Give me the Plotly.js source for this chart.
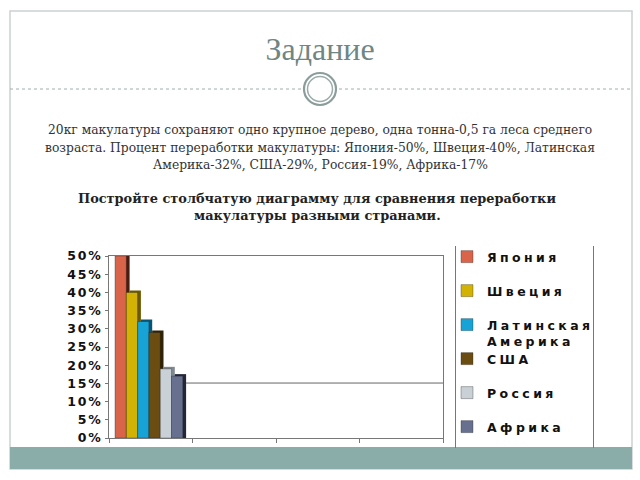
<!DOCTYPE html>
<html><head><meta charset="utf-8">
<script src="https://cdn.plot.ly/plotly-3.0.1.min.js"></script>
<style>
html,body{margin:0;padding:0;background:#fff;}
#chart{width:640px;height:480px;}
.legendtext,.legend2text,.legend3text,.legend4text,.legend5text,.legend6text{letter-spacing:3.4px;}
.ytick text{letter-spacing:1.8px;}
</style></head><body><div id="chart"></div>
<script>
// ---- data ----
const countries = ['Япония', 'Швеция', 'Латинская Америка', 'США', 'Россия', 'Африка'];
const recycling = [0.50, 0.40, 0.32, 0.29, 0.19, 0.17];
const categories = ['1', '2', '3', '4'];
const yTickValues = [0, 0.05, 0.10, 0.15, 0.20, 0.25, 0.30, 0.35, 0.40, 0.45, 0.50];
const yTickLabels = ['0%', '5%', '10%', '15%', '20%', '25%', '30%', '35%', '40%', '45%', '50%'];
const titleText = 'Задание';
const introLines = [
  '20кг макулатуры сохраняют одно крупное дерево, одна тонна-0,5 га леса среднего',
  'возраста. Процент переработки макулатуры: Япония-50%, Швеция-40%, Латинская',
  'Америка-32%, США-29%, Россия-19%, Африка-17%'
];
const taskLines = [
  'Постройте столбчатую диаграмму для сравнения переработки',
  'макулатуры разными странами.'
];
const strayLineLevel = 0.151;

// ---- styles ----
const barColors  = ['#d9644a', '#d2b204', '#18a3d7', '#6b4d12', '#c9d0d6', '#67708f'];
const sideColors = ['#4a1c10', '#6c5a00', '#0a5473', '#2f2207', '#7f878f', '#23273a'];

// ---- geometry (pixels) ----
const W = 640, H = 480, L = 109, R = 443, T = 256, B = 438;
const px = x => (x - L) / (R - L);
const py = y => (B - y) / (B - T);
const catPx = (R - L) / categories.length;
const barPx = 11.3, firstLeftPx = 115, depthPx = 3.3, risePx = 2;
const bw = barPx / catPx;
const off0 = (firstLeftPx - (L + catPx / 2)) / catPx;
const depth = depthPx / catPx;
const rise = risePx / (B - T) * 0.5;

const traces = [];
// depth faces (behind)
recycling.forEach((v, i) => {
  traces.push({
    type: 'bar', x: [categories[0]], y: [v + rise],
    offset: off0 + i * bw + depth, width: bw,
    marker: {color: sideColors[i], line: {width: 0}},
    showlegend: false, hoverinfo: 'skip'
  });
});
// front faces
recycling.forEach((v, i) => {
  traces.push({
    type: 'bar', x: [categories[0]], y: [v],
    offset: off0 + i * bw, width: bw,
    name: countries[i].replace(' ', '<br>'),
    legend: i === 0 ? 'legend' : 'legend' + (i + 1),
    showlegend: true,
    marker: {color: barColors[i], line: {width: 0.6, color: 'rgba(30,30,30,0.55)'}}
  });
});

const legendFont = {family: 'DejaVu Sans', size: 12.5, color: '#111', weight: 'bold'};
const layout = {
  width: W, height: H,
  margin: {l: L, r: W - R, t: T, b: H - B, pad: 0},
  paper_bgcolor: '#fff', plot_bgcolor: '#fff',
  barmode: 'overlay',
  title: {
    text: titleText, xref: 'container', yref: 'container', x: 0.5, xanchor: 'center',
    y: 1 - 49 / H, yanchor: 'middle',
    font: {family: 'Liberation Serif', size: 32, color: '#6f8684'}
  },
  xaxis: {
    type: 'category', categoryorder: 'array', categoryarray: categories,
    range: [-0.5, categories.length - 0.5], tickson: 'boundaries',
    ticks: 'outside', ticklen: 4, tickcolor: '#777', showticklabels: false,
    showline: true, linecolor: '#777', linewidth: 1, mirror: true,
    showgrid: false, zeroline: false, fixedrange: true
  },
  yaxis: {
    range: [0, 0.5], tickvals: yTickValues, ticktext: yTickLabels,
    ticks: 'outside', ticklen: 3, tickcolor: '#777',
    showline: true, linecolor: '#777', linewidth: 1, mirror: true,
    showgrid: false, zeroline: false, fixedrange: true,
    tickfont: {family: 'DejaVu Sans', size: 12.5, color: '#111', weight: 'bold'}
  },
  showlegend: true,
  annotations: [],
  shapes: [
    {type: 'rect', xref: 'paper', yref: 'paper', x0: px(10), x1: px(632), y0: py(11), y1: py(469),
     line: {color: '#cbd1d1', width: 1.5}, fillcolor: 'rgba(0,0,0,0)', layer: 'below'},
    {type: 'rect', xref: 'paper', yref: 'paper', x0: px(10), x1: px(632), y0: py(447), y1: py(469),
     line: {width: 0}, fillcolor: '#8badaa', layer: 'below'},
    {type: 'line', xref: 'paper', yref: 'paper', x0: px(10), x1: px(302), y0: py(89), y1: py(89),
     line: {color: '#9fb0ae', width: 1, dash: 'dot'}},
    {type: 'line', xref: 'paper', yref: 'paper', x0: px(339), x1: px(632), y0: py(89), y1: py(89),
     line: {color: '#9fb0ae', width: 1, dash: 'dot'}},
    {type: 'circle', xref: 'paper', yref: 'paper', x0: px(304), x1: px(336), y0: py(73), y1: py(105),
     line: {color: '#8a9d9b', width: 2.2}, fillcolor: 'rgba(0,0,0,0)'},
    {type: 'circle', xref: 'paper', yref: 'paper', x0: px(307.5), x1: px(332.5), y0: py(76.5), y1: py(101.5),
     line: {color: '#9aabaa', width: 1.5}, fillcolor: 'rgba(0,0,0,0)'},
    {type: 'line', xref: 'paper', yref: 'paper', x0: px(455.5), x1: px(455.5), y0: py(246), y1: py(448),
     line: {color: '#777', width: 1}},
    {type: 'line', xref: 'paper', yref: 'paper', x0: px(593.5), x1: px(593.5), y0: py(246), y1: py(448),
     line: {color: '#777', width: 1}},
    {type: 'line', xref: 'paper', yref: 'y', x0: px(186), x1: 1, y0: strayLineLevel, y1: strayLineLevel,
     line: {color: '#666', width: 1}}
  ]
};

countries.forEach((c, i) => {
  const key = i === 0 ? 'legend' : 'legend' + (i + 1);
  layout[key] = {
    x: px(447), xanchor: 'left', y: py(258 + 34 * i - 16), yanchor: 'top',
    bgcolor: 'rgba(0,0,0,0)', borderwidth: 0, font: legendFont,
    valign: 'top', itemclick: false, itemdoubleclick: false
  };
});

const textFont = {family: 'DejaVu Serif', size: 12.3, color: '#333'};
const introY = [130, 148, 165];
introLines.forEach((t, i) => layout.annotations.push({
  text: t, xref: 'paper', yref: 'paper', x: px(320), y: py(introY[i]),
  xanchor: 'center', yanchor: 'middle', showarrow: false, font: textFont
}));
const taskY = [198, 215];
taskLines.forEach((t, i) => layout.annotations.push({
  text: t, xref: 'paper', yref: 'paper', x: px(317), y: py(taskY[i]),
  xanchor: 'center', yanchor: 'middle', showarrow: false,
  font: {family: 'DejaVu Serif', size: 12.9, color: '#222', weight: 'bold'}
}));

Plotly.newPlot('chart', traces, layout, {displayModeBar: false, staticPlot: true});
</script></body></html>
